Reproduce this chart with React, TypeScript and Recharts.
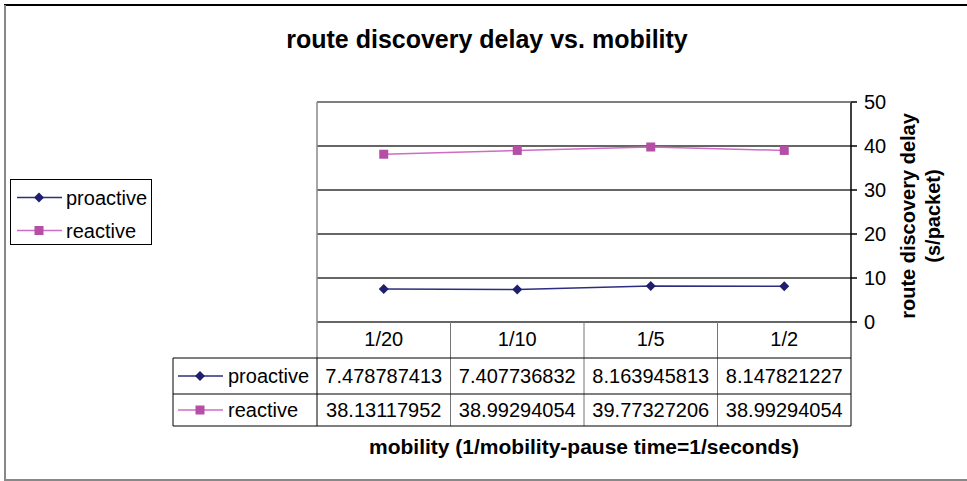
import { LineChart, Line, XAxis, YAxis, CartesianGrid, Legend } from 'recharts';

const categories = ['1/20', '1/10', '1/5', '1/2'];
const proactive = [7.478787413, 7.407736832, 8.163945813, 8.147821227];
const reactive = [38.13117952, 38.99294054, 39.77327206, 38.99294054];
const yTicks = [0, 10, 20, 30, 40, 50];
const seriesNames = ['proactive', 'reactive'];

const FONT = 'Arial, "Liberation Sans", sans-serif';
const NAVY_DOT = '#1f1f6e';
const NAVY_LINE = '#2e2e7e';
const PINK_DOT = '#b44fa5';
const PINK_LINE = '#cf6cc6';

// plot box
const PL = 317;
const PR = 851;
const PT = 102;
const PB = 322;
const Y_W = 60;
const X_H = 36;

const data = categories.map((c, i) => ({ name: c, proactive: proactive[i], reactive: reactive[i] }));
const series = [
  { key: 'proactive', values: proactive, line: NAVY_LINE, dot: NAVY_DOT, shape: 'diamond' },
  { key: 'reactive', values: reactive, line: PINK_LINE, dot: PINK_DOT, shape: 'square' },
];

function Marker({ cx, cy, shape, fill }: { cx: number; cy: number; shape: string; fill: string }) {
  if (shape === 'diamond') {
    return <path d={`M${cx},${cy - 5}L${cx + 5},${cy}L${cx},${cy + 5}L${cx - 5},${cy}Z`} fill={fill} />;
  }
  return <rect x={cx - 4.5} y={cy - 4.5} width={9} height={9} fill={fill} />;
}

function Sample({ x, y, s }: { x: number; y: number; s: typeof series[number] }) {
  return (
    <g>
      <line x1={x} x2={x + 45} y1={y} y2={y} stroke={s.line} strokeWidth={1.5} />
      <Marker cx={x + 22} cy={y} shape={s.shape} fill={s.dot} />
    </g>
  );
}

function LegendBox() {
  return (
    <svg width={142} height={66} style={{ display: 'block' }}>
      <rect x={0.5} y={0.5} width={141} height={65} fill="#fff" stroke="#000" />
      {series.map((s, i) => (
        <g key={s.key}>
          <Sample x={7} y={18.5 + i * 33} s={s} />
          <text x={56} y={18.5 + i * 33} dominantBaseline="central" fontSize={20} fontFamily={FONT} fill="#000">
            {seriesNames[i]}
          </text>
        </g>
      ))}
    </svg>
  );
}

function Overlay() {
  const colW = (PR - PL) / categories.length;
  const rows = [358, 394, 426];
  return (
    <svg width={967} height={481} style={{ position: 'absolute', left: 0, top: 0, pointerEvents: 'none' }}>
      {/* outer frame */}
      <line x1={4} x2={967} y1={5} y2={5} stroke="#000" strokeWidth={2} />
      <line x1={5} x2={5} y1={5} y2={481} stroke="#888" strokeWidth={2} />
      <line x1={4} x2={967} y1={480} y2={480} stroke="#888" strokeWidth={2} />

      <text x={487} y={48} textAnchor="middle" fontSize={25} fontWeight="bold" fontFamily={FONT}>
        route discovery delay vs. mobility
      </text>

      {/* plot border */}
      <line x1={PL} x2={PR} y1={PT} y2={PT} stroke="#888" strokeWidth={1.5} />
      <line x1={PL} x2={PL} y1={PT} y2={rows[0]} stroke="#888" strokeWidth={1.5} />

      {/* data table */}
      {categories.map((c, i) =>
        i === 0 ? null : (
          <line key={c} x1={PL + i * colW} x2={PL + i * colW} y1={PB} y2={rows[2]} stroke="#777" />
        )
      )}
      <line x1={PR} x2={PR} y1={PB} y2={rows[2]} stroke="#000" />
      <line x1={173} x2={173} y1={rows[0]} y2={rows[2]} stroke="#000" />
      <line x1={PL} x2={PL} y1={rows[0]} y2={rows[2]} stroke="#000" />
      {rows.map((y) => (
        <line key={y} x1={173} x2={PR} y1={y} y2={y} stroke="#000" />
      ))}
      {series.map((s, r) => {
        const cy = (rows[r] + rows[r + 1]) / 2;
        return (
          <g key={s.key}>
            <Sample x={178} y={cy} s={s} />
            <text x={228} y={cy} dominantBaseline="central" fontSize={20} fontFamily={FONT}>
              {seriesNames[r]}
            </text>
            {s.values.map((v, i) => (
              <text
                key={i}
                x={PL + (i + 0.5) * colW}
                y={cy}
                textAnchor="middle"
                dominantBaseline="central"
                fontSize={20}
                fontFamily={FONT}
              >
                {String(v)}
              </text>
            ))}
          </g>
        );
      })}

      {/* axis titles */}
      <text x={584} y={454} textAnchor="middle" fontSize={21} fontWeight="bold" fontFamily={FONT}>
        mobility (1/mobility-pause time=1/seconds)
      </text>
      <text x={915} y={216} transform="rotate(-90 915 216)" textAnchor="middle" fontSize={20} fontWeight="bold" fontFamily={FONT}>
        route discovery delay
      </text>
      <text x={940} y={216} transform="rotate(-90 940 216)" textAnchor="middle" fontSize={20} fontWeight="bold" fontFamily={FONT}>
        (s/packet)
      </text>
    </svg>
  );
}

export default function App() {
  const pad = (PR - PL) / categories.length / 2;
  return (
    <div style={{ position: 'absolute', left: 0, top: 0, width: 967, height: 481, background: '#fff', fontFamily: FONT }}>
      <LineChart
        width={967}
        height={481}
        data={data}
        margin={{ top: PT, left: PL, right: 967 - PR - Y_W, bottom: 481 - PB - X_H }}
      >
        <CartesianGrid vertical={false} stroke="#333" strokeWidth={1.5} />
        <XAxis
          dataKey="name"
          height={X_H}
          interval={0}
          padding={{ left: pad, right: pad }}
          axisLine={false}
          tickLine={false}
          tickSize={0}
          tickMargin={10}
          tick={{ fontSize: 20, fill: '#000', fontFamily: FONT }}
        />
        <YAxis
          orientation="right"
          width={Y_W}
          domain={[0, 50]}
          ticks={yTicks}
          interval={0}
          axisLine={{ stroke: '#000', strokeWidth: 1.5 }}
          tickLine={{ stroke: '#000', strokeWidth: 1.5 }}
          tickSize={6}
          tickMargin={7}
          tick={{ fontSize: 20, fill: '#000', fontFamily: FONT }}
        />
        <Legend
          layout="vertical"
          align="center"
          verticalAlign="middle"
          wrapperStyle={{ left: 10, top: 179, width: 142, height: 66 }}
          content={() => <LegendBox />}
        />
        {series.map((s) => (
          <Line
            key={s.key}
            dataKey={s.key}
            stroke={s.line}
            strokeWidth={1.5}
            isAnimationActive={false}
            dot={(p: any) => <Marker key={`${s.key}-${p.index}`} cx={p.cx} cy={p.cy} shape={s.shape} fill={s.dot} />}
            activeDot={false}
          />
        ))}
      </LineChart>
      <Overlay />
    </div>
  );
}
